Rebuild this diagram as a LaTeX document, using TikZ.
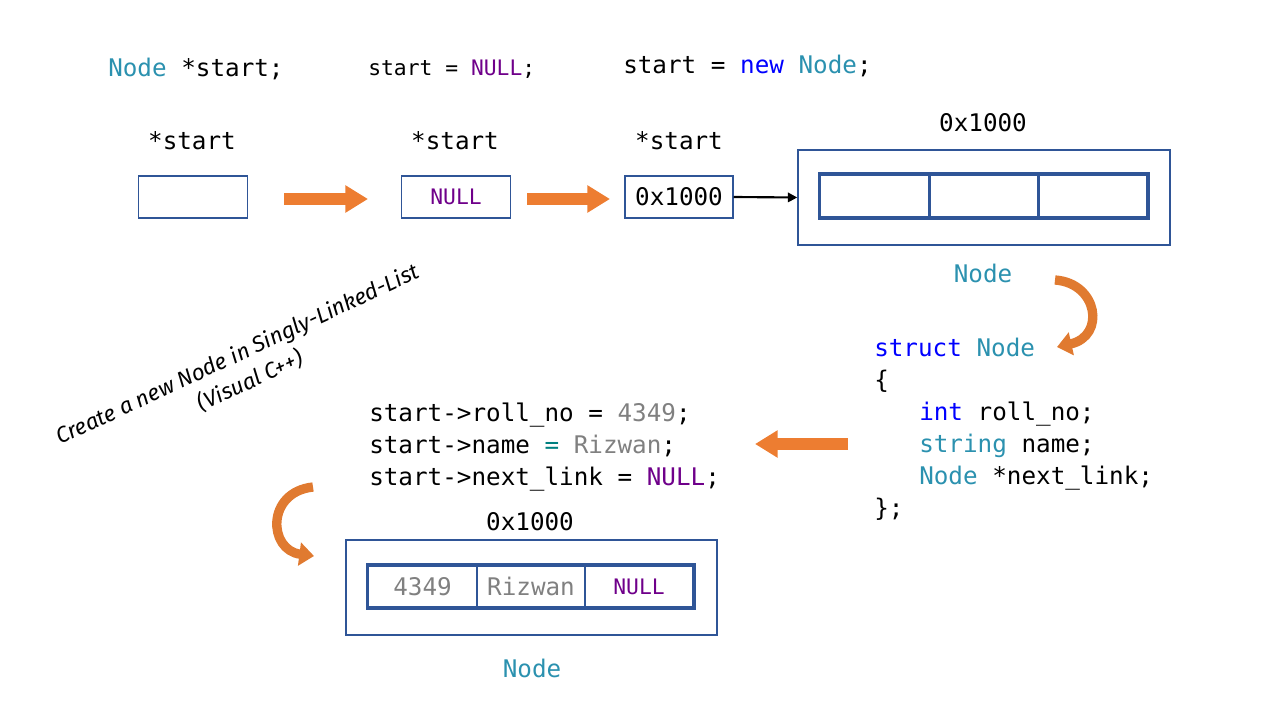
\documentclass[tikz,border=0pt]{standalone}
\usepackage{fontspec}
\setmonofont{DejaVu Sans Mono}
\newfontfamily\handfont{Fira Sans}
\usetikzlibrary{arrows.meta}
\definecolor{typeteal}{HTML}{2B91AF}
\definecolor{kwblue}{HTML}{0000FF}
\definecolor{nullpurple}{HTML}{6F008A}
\definecolor{numgray}{HTML}{808080}
\definecolor{opteal}{HTML}{008080}
\definecolor{boxblue}{HTML}{2F5597}
\definecolor{arroworange}{HTML}{ED7D31}
\definecolor{curveorange}{HTML}{E07A30}
\begin{document}
\begin{tikzpicture}[x=0.75pt,y=-0.75pt,
  code/.style={inner sep=0pt, font=\ttfamily\fontsize{18.2}{24}\selectfont, anchor=base west},
  codec/.style={inner sep=0pt, font=\ttfamily\fontsize{18.2}{24}\selectfont, anchor=base},
  small/.style={font=\ttfamily\fontsize{16}{20}\selectfont},
  ptrbox/.style={draw=boxblue, line width=1.1pt, minimum width=81.75pt, minimum height=31.5pt, inner sep=0pt, font=\ttfamily\fontsize{18.2}{24}\selectfont},
  outerbox/.style={draw=boxblue, line width=1.1pt, minimum width=279pt, minimum height=71.25pt, inner sep=0pt},
  cell/.style={draw=boxblue, line width=1.6pt, minimum width=81.5pt, minimum height=31.5pt, inner sep=0pt, font=\ttfamily\fontsize{18.2}{24}\selectfont},
  fat/.style={arroworange, line width=9pt, -{Triangle[width=19.5pt,length=17pt]}},
  curv/.style={curveorange, line width=7pt, -{Triangle[width=17pt,length=11pt]}}
]
\useasboundingbox (0,0) rectangle (1280,720);

% top code
\node[code] (c1) at (108,77) {\textcolor{typeteal}{Node} *start;};
\node[code, small] (c2) at (368,76) {start = \textcolor{nullpurple}{NULL};};
\node[code] (c3) at (623,74) {start = \textcolor{kwblue}{new} \textcolor{typeteal}{Node};};

% pointer labels
\node[codec] (l1) at (192,150) {*start};
\node[codec] (l2) at (455,150) {*start};
\node[codec] (l3) at (679,150) {*start};

% pointer boxes
\node[ptrbox] (b1) at (193,197) {};
\node[ptrbox] (b2) at (456,197) {\textcolor{nullpurple}{\fontsize{16}{20}\selectfont NULL}};
\node[ptrbox, minimum width=81pt] (b3) at (679,197) {0x1000};

\draw[fat] (284,199) -- (368,199);
\draw[fat] (527,199) -- (610,199);

% first node
\node[outerbox] (n1) at (984,197.5) {};
\node[codec] (a1) at (983,132) {0x1000};
\node[codec] (t1) at (983,282) {\textcolor{typeteal}{Node}};
\node[cell] (n1a) at (874.5,196) {};
\node[cell] (n1b) at (984,196) {};
\node[cell] (n1c) at (1093,196) {};
\draw[boxblue, line width=2.3pt] (n1a.north west) rectangle (n1c.south east);
\draw[black, line width=1.6pt, -{Triangle[width=7pt,length=7pt]}] (b3.east) -- (n1.west);

% curved arrow top right
\coordinate (k1s) at (1055,280);
\coordinate (k1e) at (1057,347);
\draw[curv] (k1s) .. controls (1098,283) and (1106,336) .. (k1e);

% struct code
\node[code, text=kwblue] (s1) at (874,356) {struct \textcolor{typeteal}{Node}};
\node[code] (s2) at (874,388) {\{};
\node[code] (s3) at (919,420.5) {\textcolor{kwblue}{int} roll\_no;};
\node[code] (s4) at (919,452.5) {\textcolor{typeteal}{string} name;};
\node[code] (s5) at (919,484.5) {\textcolor{typeteal}{Node} *next\_link;};
\node[code] (s6) at (874,516.5) {\};};

% left arrow
\coordinate (la1) at (848,444);
\coordinate (la2) at (755,444);
\draw[fat] (la1) -- (la2);

% assignment code
\node[code] (p1) at (369,421) {start->roll\_no = \textcolor{numgray}{4349};};
\node[code] (p2) at (369,453) {start->name \textcolor{opteal}{=} \textcolor{numgray}{Rizwan};};
\node[code] (p3) at (369,485) {start->next\_link = \textcolor{nullpurple}{NULL};};

% curved arrow left
\coordinate (k2s) at (313,487);
\coordinate (k2e) at (314,556);
\draw[curv] (k2s) .. controls (266,492) and (268,550) .. (k2e);

% second node
\node[outerbox, minimum width=278pt] (n2) at (531.5,587.5) {};
\node[codec] (a2) at (530,530) {0x1000};
\node[codec] (t2) at (532,677) {\textcolor{typeteal}{Node}};
\node[cell] (n2a) at (422.5,586.5) {\textcolor{numgray}{4349}};
\node[cell] (n2b) at (531,586.5) {\textcolor{numgray}{Rizwan}};
\node[cell] (n2c) at (639,586.5) {\textcolor{nullpurple}{\fontsize{16}{20}\selectfont NULL}};
\draw[boxblue, line width=2.3pt] (n2a.north west) rectangle (n2c.south east);

% title
\node[rotate=25, align=center, inner sep=0pt, font=\handfont\itshape\fontsize{16.7}{22}\selectfont] (title) at (244,368) {Create a new Node in Singly-Linked-List\\(Visual C++)};
\end{tikzpicture}
\end{document}
